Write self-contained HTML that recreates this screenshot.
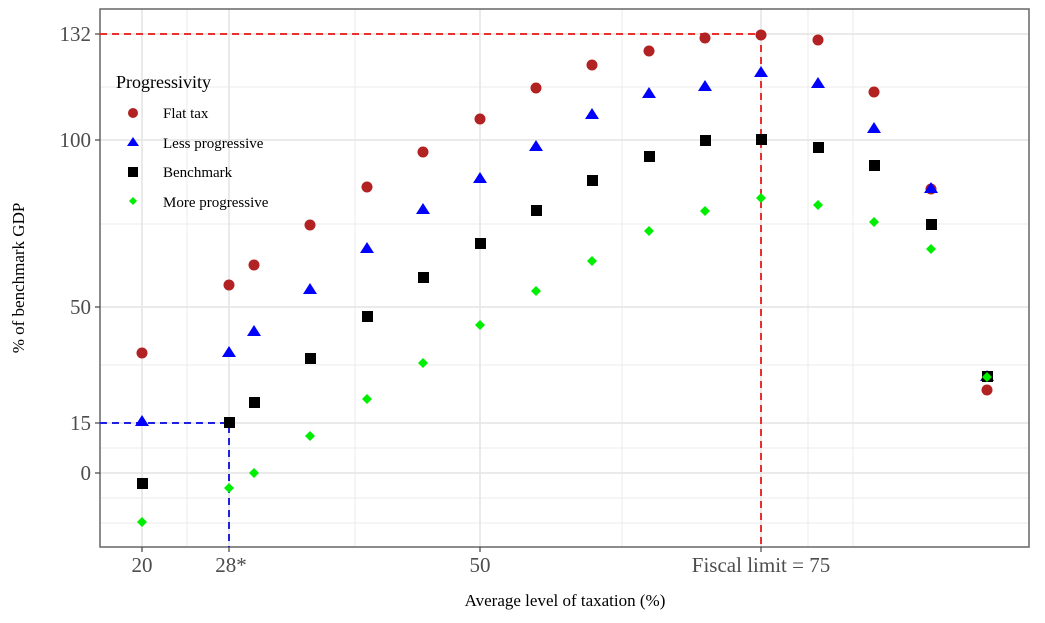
<!DOCTYPE html>
<html><head><meta charset="utf-8"><style>body{margin:0;background:#fff}svg{display:block}</style></head><body>
<svg width="1045" height="623" xmlns="http://www.w3.org/2000/svg" font-family="Liberation Serif, serif">
<rect x="0" y="0" width="1045" height="623" fill="#fff"/>
<g stroke="#ebebeb" stroke-width="1">
<line x1="100" x2="1029" y1="87" y2="87"/><line x1="100" x2="1029" y1="224" y2="224"/><line x1="100" x2="1029" y1="365" y2="365"/><line x1="100" x2="1029" y1="448" y2="448"/><line x1="100" x2="1029" y1="498" y2="498"/><line x1="100" x2="1029" y1="523" y2="523"/>
<line x1="187" x2="187" y1="9" y2="547"/><line x1="355" x2="355" y1="9" y2="547"/><line x1="622" x2="622" y1="9" y2="547"/><line x1="808" x2="808" y1="9" y2="547"/><line x1="853" x2="853" y1="9" y2="547"/>
</g>
<g stroke="#e4e4e4" stroke-width="1.5">
<line x1="100" x2="1029" y1="34" y2="34"/><line x1="100" x2="1029" y1="140" y2="140"/><line x1="100" x2="1029" y1="307" y2="307"/><line x1="100" x2="1029" y1="423" y2="423"/><line x1="100" x2="1029" y1="473" y2="473"/>
<line x1="142" x2="142" y1="9" y2="547"/><line x1="229" x2="229" y1="9" y2="547"/><line x1="480" x2="480" y1="9" y2="547"/><line x1="761" x2="761" y1="9" y2="547"/>
</g>
<rect x="100" y="9" width="929" height="538" fill="none" stroke="#666" stroke-width="1.5"/>
<g stroke="#444" stroke-width="1.2">
<line x1="95" x2="100" y1="34" y2="34"/><line x1="95" x2="100" y1="140" y2="140"/><line x1="95" x2="100" y1="307" y2="307"/><line x1="95" x2="100" y1="423" y2="423"/><line x1="95" x2="100" y1="473" y2="473"/>
<line x1="142" x2="142" y1="547" y2="552"/><line x1="229" x2="229" y1="547" y2="552"/><line x1="480" x2="480" y1="547" y2="552"/><line x1="761" x2="761" y1="547" y2="552"/>
</g>
<g fill="#4d4d4d" font-size="21" text-anchor="end">
<text x="91" y="41">132</text><text x="91" y="147">100</text><text x="91" y="314">50</text><text x="91" y="430">15</text><text x="91" y="480">0</text>
</g>
<g fill="#4d4d4d" font-size="21" text-anchor="middle">
<text x="142" y="572">20</text><text x="231" y="572">28*</text><text x="480" y="572">50</text><text x="761" y="572">Fiscal limit = 75</text>
</g>
<text x="565" y="606" font-size="17" text-anchor="middle" fill="#000">Average level of taxation (%)</text>
<text transform="translate(24,278) rotate(-90)" font-size="17" text-anchor="middle" fill="#000">% of benchmark GDP</text>
<g stroke-dasharray="7,5" stroke-width="2" fill="none">
<path d="M100 34 H761 V547" stroke="#e8302c"/>
<path d="M100 423 H229 V547" stroke="#2020e0"/>
</g>
<g>
<g fill="#b22222">
<circle cx="142" cy="353" r="5.5"/><circle cx="229" cy="285" r="5.5"/><circle cx="254" cy="265" r="5.5"/><circle cx="310" cy="225" r="5.5"/><circle cx="367" cy="187" r="5.5"/><circle cx="423" cy="152" r="5.5"/><circle cx="480" cy="119" r="5.5"/><circle cx="536" cy="88" r="5.5"/><circle cx="592" cy="65" r="5.5"/><circle cx="649" cy="51" r="5.5"/><circle cx="705" cy="38" r="5.5"/><circle cx="761" cy="35" r="5.5"/><circle cx="818" cy="40" r="5.5"/><circle cx="874" cy="92" r="5.5"/><circle cx="931" cy="189" r="5.5"/><circle cx="987" cy="390" r="5.5"/>
</g>
<g fill="#0000ff">
<path d="M142 415l7 11h-14z"/><path d="M229 346l7 11h-14z"/><path d="M254 325l7 11h-14z"/><path d="M310 283l7 11h-14z"/><path d="M367 242l7 11h-14z"/><path d="M423 203l7 11h-14z"/><path d="M480 172l7 11h-14z"/><path d="M536 140l7 11h-14z"/><path d="M592 108l7 11h-14z"/><path d="M649 87l7 11h-14z"/><path d="M705 80l7 11h-14z"/><path d="M761 66l7 11h-14z"/><path d="M818 77l7 11h-14z"/><path d="M874 122l7 11h-14z"/><path d="M931 182l7 11h-14z"/><path d="M987 370l7 11h-14z"/>
</g>
<g fill="#000">
<rect x="137" y="478" width="11" height="11"/><rect x="224" y="417" width="11" height="11"/><rect x="249" y="397" width="11" height="11"/><rect x="305" y="353" width="11" height="11"/><rect x="362" y="311" width="11" height="11"/><rect x="418" y="272" width="11" height="11"/><rect x="475" y="238" width="11" height="11"/><rect x="531" y="205" width="11" height="11"/><rect x="587" y="175" width="11" height="11"/><rect x="644" y="151" width="11" height="11"/><rect x="700" y="135" width="11" height="11"/><rect x="756" y="134" width="11" height="11"/><rect x="813" y="142" width="11" height="11"/><rect x="869" y="160" width="11" height="11"/><rect x="926" y="219" width="11" height="11"/><rect x="982" y="371" width="11" height="11"/>
</g>
<g fill="#00ee00">
<path d="M142 517l5 5-5 5-5-5z"/><path d="M229 483l5 5-5 5-5-5z"/><path d="M254 468l5 5-5 5-5-5z"/><path d="M310 431l5 5-5 5-5-5z"/><path d="M367 394l5 5-5 5-5-5z"/><path d="M423 358l5 5-5 5-5-5z"/><path d="M480 320l5 5-5 5-5-5z"/><path d="M536 286l5 5-5 5-5-5z"/><path d="M592 256l5 5-5 5-5-5z"/><path d="M649 226l5 5-5 5-5-5z"/><path d="M705 206l5 5-5 5-5-5z"/><path d="M761 193l5 5-5 5-5-5z"/><path d="M818 200l5 5-5 5-5-5z"/><path d="M874 217l5 5-5 5-5-5z"/><path d="M931 244l5 5-5 5-5-5z"/><path d="M987 372l5 5-5 5-5-5z"/>
</g>
</g>
<text x="116" y="88" font-size="18" fill="#000">Progressivity</text>
<circle cx="133" cy="113" r="5" fill="#b22222"/>
<path d="M133 137l6 9h-12z" fill="#0000ff"/>
<rect x="128" y="167" width="10" height="10" fill="#000"/>
<path d="M133 197l4 4-4 4-4-4z" fill="#00ee00"/>
<g font-size="15" fill="#000">
<text x="163" y="118">Flat tax</text><text x="163" y="148">Less progressive</text><text x="163" y="177">Benchmark</text><text x="163" y="207">More progressive</text>
</g>
</svg>
</body></html>
